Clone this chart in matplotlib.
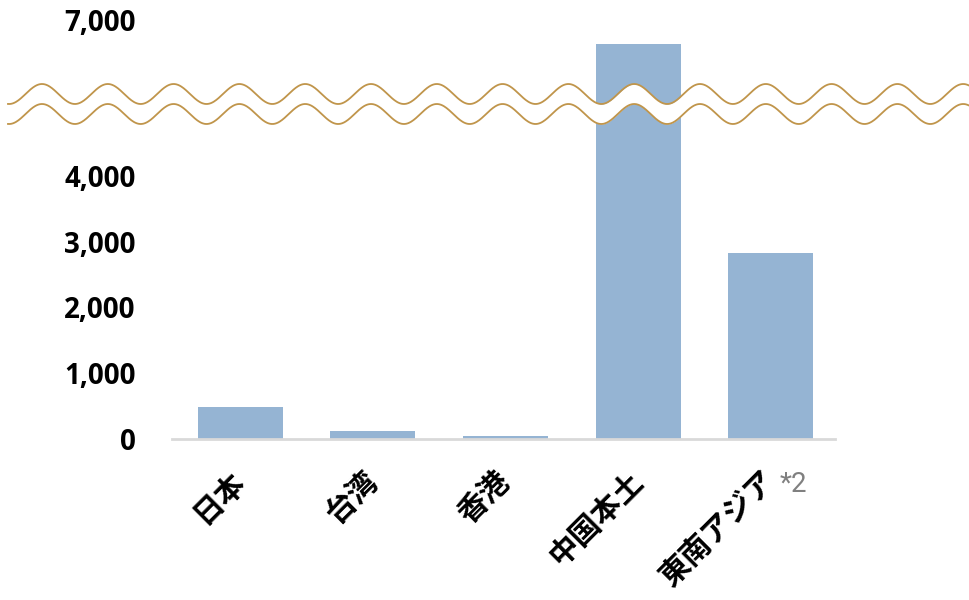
import numpy as np
import matplotlib
matplotlib.use("Agg")
import matplotlib.pyplot as plt
from matplotlib.ticker import FuncFormatter

# ---- data ----
categories = ["日本", "台湾", "香港", "中国本土", "東南アジア"]
values = [475, 115, 40, 6630, 2830]
lower_ticks = [0, 1000, 2000, 3000, 4000]
upper_ticks = [7000]
note_text = "*2"

# ---- layout (pixels) ----
W, H = 969, 600
px_per_unit = 65.6 / 1000.0
y_zero_px = 438.5
y_break_px = 112.0
y_7000_px = 20.0
x_left_px, x_right_px = 172, 835

bar_color = "#95B4D3"
wave_color = "#C0954B"
axis_color = "#D9D9D9"

fig = plt.figure(figsize=(W / 100, H / 100), dpi=100)

lower_top_val = (y_zero_px - y_break_px) / (px_per_unit)
upper_bot_val = 7000 - (y_break_px - y_7000_px) / px_per_unit
upper_top_val = 7000 + y_7000_px / px_per_unit

ax_lo = fig.add_axes([x_left_px / W, (H - y_zero_px) / H,
                      (x_right_px - x_left_px) / W, (y_zero_px - y_break_px) / H])
ax_hi = fig.add_axes([x_left_px / W, (H - y_break_px) / H,
                      (x_right_px - x_left_px) / W, y_break_px / H])

x = np.arange(len(categories))
fmt = FuncFormatter(lambda v, p: f"{int(v):,}")
for ax in (ax_lo, ax_hi):
    ax.bar(x, values, width=0.64, color=bar_color, zorder=2)
    ax.set_xlim(-0.515, len(categories) - 0.515)
    for s in ax.spines.values():
        s.set_visible(False)
    ax.yaxis.set_major_formatter(fmt)
    ax.tick_params(axis="y", length=0, pad=26)

ax_lo.set_ylim(0, lower_top_val)
ax_lo.set_yticks(lower_ticks)
ax_hi.set_ylim(upper_bot_val, upper_top_val)
ax_hi.set_yticks(upper_ticks)
ax_hi.set_xticks([])

for ax in (ax_lo, ax_hi):
    for lab in ax.get_yticklabels():
        lab.set_fontfamily("Open Sans")
        lab.set_fontweight("bold")
        lab.set_fontsize(20)

ax_lo.axhline(0, color=axis_color, lw=2, zorder=3, clip_on=False)
ax_lo.set_xticks(x)
ax_lo.set_xticklabels(categories, rotation=45, ha="right", va="center",
                      rotation_mode="anchor",
                      fontfamily=["Noto Sans CJK JP", "DejaVu Sans"],
                      fontweight="bold", fontsize=21.5)
ax_lo.tick_params(axis="x", length=0, pad=27)

# ---- overlay: break waves and note ----
ov = fig.add_axes([0, 0, 1, 1], zorder=10)
ov.set_xlim(0, W)
ov.set_ylim(H, 0)
ov.axis("off")
ov.patch.set_visible(False)
xs = np.linspace(8, W, 1200)
period = 65.8
y1 = 94 - 10 * np.cos(2 * np.pi * (xs - 42) / period)
y2 = y1 + 20
ov.fill_between(xs, y1, y2, color="white", lw=0)
ov.plot(xs, y1, color=wave_color, lw=1.3)
ov.plot(xs, y2, color=wave_color, lw=1.3)

ov.text(780, 484, note_text, color="#808080", fontsize=20,
        fontfamily="Roboto", ha="left", va="center")

fig.savefig("out.png", dpi=100)
